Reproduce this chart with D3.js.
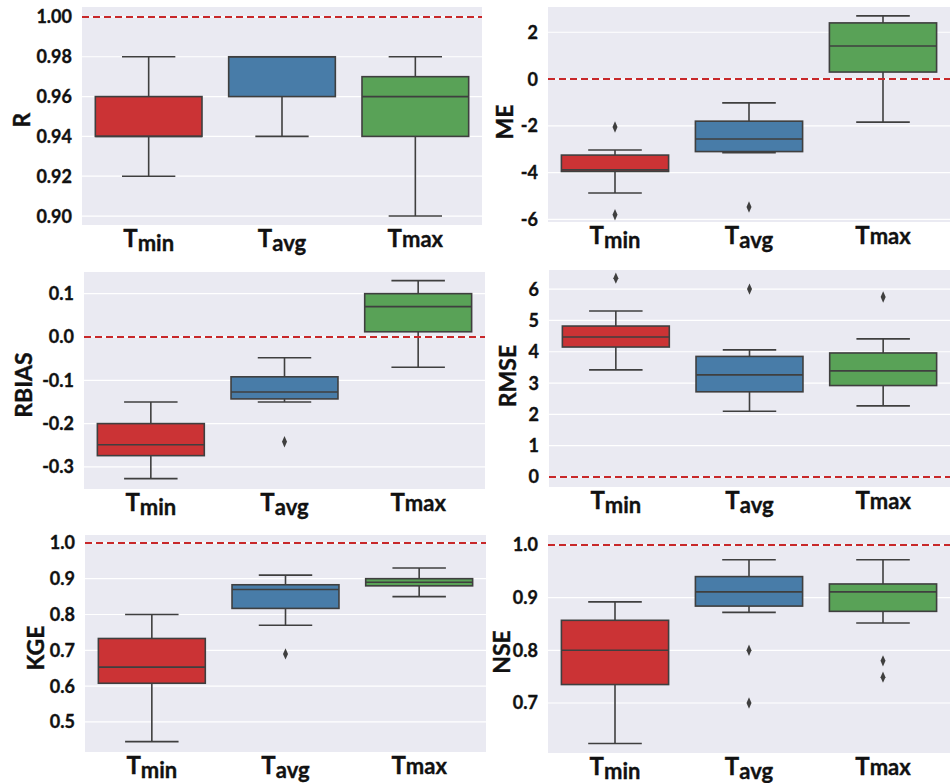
<!DOCTYPE html>
<html lang="en">
    <head>
        <meta charset="utf-8">
        <title>Box plots of T statistics</title>
        <script src="https://d3js.org/d3.v7.min.js"></script>
        <style>
            body {
                margin: 0;
                background: white;
            }
            .tick-label {
                font-family: Lato, sans-serif;
                font-weight: bold;
                font-size: 18px;
                fill: #111;
                stroke: #111;
                stroke-width: 0.35px;
            }
            .axis-title {
                font-family: Lato, sans-serif;
                font-weight: bold;
                font-size: 23px;
                fill: #111;
                stroke: #111;
                stroke-width: 0.4px;
            }
            .cat-label {
                font-family: Lato, sans-serif;
                font-weight: bold;
                fill: #111;
                stroke: #111;
                stroke-width: 0.35px;
            }
        </style>
    </head>
    <body>
        <div id="chart"></div>
        <script type="text/javascript">
            // categories and colors
            var categories = ["Tmin","Tavg","Tmax"];
            var catMain = ["T","T","T"];
            var catSub = ["min","avg","max"];
            var colors = ["#cb3335","#487ca8","#59a257"];

            // box stats per category: [whisker low, q1, median, q3, whisker high]
            var statR = [[0.92,0.94,0.94,0.96,0.98],[0.94,0.96,0.98,0.98,0.98],[0.90,0.94,0.96,0.97,0.98]];
            var statME = [[-4.87,-3.95,-3.88,-3.25,-3.03],[-3.15,-3.1,-2.56,-1.8,-1.02],[-1.84,0.3,1.41,2.4,2.7]];
            var statRBIAS = [[-0.327,-0.274,-0.249,-0.2,-0.15],[-0.15,-0.143,-0.127,-0.092,-0.048],[-0.07,0.012,0.07,0.10,0.13]];
            var statRMSE = [[3.42,4.15,4.47,4.82,5.3],[2.1,2.72,3.26,3.85,4.06],[2.27,2.92,3.39,3.96,4.41]];
            var statKGE = [[0.445,0.608,0.653,0.733,0.80],[0.77,0.817,0.87,0.883,0.91],[0.85,0.88,0.89,0.90,0.93]];
            var statNSE = [[0.623,0.735,0.80,0.857,0.892],[0.872,0.884,0.911,0.94,0.972],[0.852,0.874,0.911,0.926,0.972]];

            // outliers per category
            var outR = [[],[],[]];
            var outME = [[-2.05,-5.8],[-5.47],[]];
            var outRBIAS = [[],[-0.242],[]];
            var outRMSE = [[6.35],[6.0],[5.75]];
            var outKGE = [[],[0.69],[]];
            var outNSE = [[],[0.80,0.70],[0.78,0.749]];

            // tick values
            var ticksR = [0.90,0.92,0.94,0.96,0.98,1.00];
            var ticksME = [-6,-4,-2,0,2];
            var ticksRBIAS = [-0.3,-0.2,-0.1,0.0,0.1];
            var ticksRMSE = [0,1,2,3,4,5,6];
            var ticksKGE = [0.5,0.6,0.7,0.8,0.9,1.0];
            var ticksNSE = [0.7,0.8,0.9,1.0];

            // reference (dashed) lines
            var refValues = [1.0,0,0,0,1.0,1.0];

            var metrics = [
                {name:"R", stats:statR, out:outR, ticks:ticksR, fmt:".2f", ref:refValues[0]},
                {name:"ME", stats:statME, out:outME, ticks:ticksME, fmt:"d", ref:refValues[1]},
                {name:"RBIAS", stats:statRBIAS, out:outRBIAS, ticks:ticksRBIAS, fmt:".1f", ref:refValues[2]},
                {name:"RMSE", stats:statRMSE, out:outRMSE, ticks:ticksRMSE, fmt:"d", ref:refValues[3]},
                {name:"KGE", stats:statKGE, out:outKGE, ticks:ticksKGE, fmt:".1f", ref:refValues[4]},
                {name:"NSE", stats:statNSE, out:outNSE, ticks:ticksNSE, fmt:".1f", ref:refValues[5]}
            ];

            // panel layout (pixel boxes + y ranges)
            var layout = [
                {x0:82, x1:482, y0:7, y1:225, dom:[0.8955,1.005], lx:22, ly:120},
                {x0:548, x1:950, y0:7, y1:222, dom:[-6.11,3.08], lx:505, ly:122},
                {x0:84, x1:485, y0:272, y1:489, dom:[-0.351,0.150], lx:24, ly:385},
                {x0:549, x1:950, y0:270, y1:487, dom:[-0.32,6.61], lx:508, ly:376},
                {x0:85, x1:486, y0:535, y1:752, dom:[0.416,1.022], lx:36, ly:648},
                {x0:548, x1:950, y0:535, y1:753, dom:[0.605,1.019], lx:502, ly:652}
            ];
            var subShift = [4,4,0];

            var w = 950;
            var h = 783;
            var lineColor = "#3f3f3f";

            // plain hyphen for negatives, like the original
            var locale = d3.formatLocale({decimal:".", thousands:",", grouping:[3], currency:["",""], minus:"-"});

            var svg = d3.select("#chart").append("svg").attr("width",w).attr("height",h);

            metrics.forEach(function(m,k) {
                var L = layout[k];
                var g = svg.append("g");

                var xScale = d3.scaleBand().domain(categories).range([L.x0,L.x1]);
                var yScale = d3.scaleLinear().domain(L.dom).range([L.y1,L.y0]);
                var bw = xScale.bandwidth()*0.8;

                // background
                g.append("rect").attr("x",L.x0).attr("y",L.y0)
                    .attr("width",L.x1-L.x0).attr("height",L.y1-L.y0)
                    .attr("fill","#eaeaf2");

                // grid lines
                g.selectAll("line.grid").data(m.ticks).enter().append("line")
                    .attr("class","grid")
                    .attr("x1",L.x0).attr("x2",L.x1)
                    .attr("y1",function(d) { return yScale(d); })
                    .attr("y2",function(d) { return yScale(d); })
                    .attr("stroke","white").attr("stroke-width",1.2);

                // tick labels
                var f = locale.format(m.fmt);
                g.selectAll("text.tick-label").data(m.ticks).enter().append("text")
                    .attr("class","tick-label")
                    .attr("x",L.x0-10)
                    .attr("y",function(d) { return yScale(d); })
                    .attr("dy","0.36em")
                    .attr("text-anchor","end")
                    .text(function(d) { return f(d); });

                // y title
                g.append("text").attr("class","axis-title")
                    .attr("transform","translate("+L.lx+","+L.ly+") rotate(-90)")
                    .attr("text-anchor","middle")
                    .attr("dy","0.36em")
                    .text(m.name);

                // boxes
                var boxes = g.selectAll("g.box").data(m.stats).enter().append("g").attr("class","box")
                    .attr("transform",function(d,i) { return "translate("+(xScale(categories[i])+xScale.bandwidth()/2)+",0)"; });

                // whiskers
                boxes.append("line").attr("x1",0).attr("x2",0)
                    .attr("y1",function(d) { return yScale(d[0]); })
                    .attr("y2",function(d) { return yScale(d[1]); })
                    .attr("stroke",lineColor).attr("stroke-width",1.6);
                boxes.append("line").attr("x1",0).attr("x2",0)
                    .attr("y1",function(d) { return yScale(d[3]); })
                    .attr("y2",function(d) { return yScale(d[4]); })
                    .attr("stroke",lineColor).attr("stroke-width",1.6);
                boxes.append("line").attr("x1",-bw/4).attr("x2",bw/4)
                    .attr("y1",function(d) { return yScale(d[0]); })
                    .attr("y2",function(d) { return yScale(d[0]); })
                    .attr("stroke",lineColor).attr("stroke-width",1.6);
                boxes.append("line").attr("x1",-bw/4).attr("x2",bw/4)
                    .attr("y1",function(d) { return yScale(d[4]); })
                    .attr("y2",function(d) { return yScale(d[4]); })
                    .attr("stroke",lineColor).attr("stroke-width",1.6);

                boxes.append("rect").attr("x",-bw/2).attr("width",bw)
                    .attr("y",function(d) { return yScale(d[3]); })
                    .attr("height",function(d) { return yScale(d[1])-yScale(d[3]); })
                    .attr("fill",function(d,i) { return colors[i]; })
                    .attr("stroke",lineColor).attr("stroke-width",1.6);

                // median
                boxes.append("line").attr("x1",-bw/2).attr("x2",bw/2)
                    .attr("y1",function(d) { return yScale(d[2]); })
                    .attr("y2",function(d) { return yScale(d[2]); })
                    .attr("stroke",lineColor).attr("stroke-width",1.6);

                // outliers
                var diamond = d3.symbol().type(d3.symbolDiamond).size(34);
                m.out.forEach(function(vals,i) {
                    var cx = xScale(categories[i])+xScale.bandwidth()/2;
                    g.selectAll(null).data(vals).enter().append("path")
                        .attr("d",diamond)
                        .attr("transform",function(d) { return "translate("+cx+","+yScale(d)+") scale(0.8,1.05)"; })
                        .attr("fill",lineColor);
                });

                // reference line
                g.append("line").attr("x1",L.x0).attr("x2",L.x1)
                    .attr("y1",yScale(m.ref)).attr("y2",yScale(m.ref))
                    .attr("stroke","#c8282a").attr("stroke-width",2)
                    .attr("stroke-dasharray","7,4");

                // category labels
                var labels = g.selectAll("text.cat-label").data(categories).enter().append("text")
                    .attr("class","cat-label")
                    .attr("x",function(d) { return xScale(d)+xScale.bandwidth()/2; })
                    .attr("y",L.y1+22)
                    .attr("text-anchor","middle");
                labels.append("tspan").style("font-size","24px").text(function(d,i) { return catMain[i]; });
                labels.append("tspan").style("font-size","22px")
                    .attr("dy",function(d,i) { return subShift[i]; })
                    .text(function(d,i) { return catSub[i]; });
            });
        </script>
    </body>
</html>
